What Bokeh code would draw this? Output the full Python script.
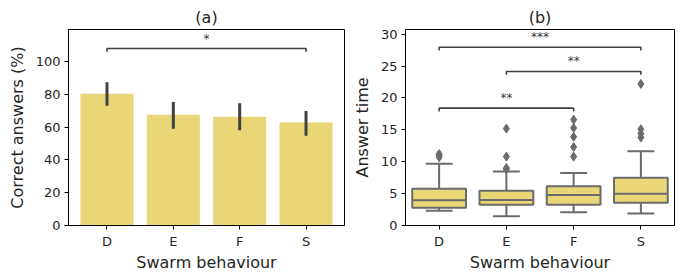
from bokeh.plotting import figure
from bokeh.layouts import row
from bokeh.models import FixedTicker, Range1d
from bokeh.core.properties import value
from bokeh.embed import file_html
from bokeh.resources import INLINE

# ---------------- data ----------------
categories = ["D", "E", "F", "S"]

# (a) correct answers (%) : mean with CI
correct_mean = [80.3, 67.5, 66.2, 62.8]
correct_ci_low = [73.0, 59.0, 58.1, 54.7]
correct_ci_high = [87.3, 75.2, 74.4, 69.8]

# (b) answer time box plot statistics
time_whisker_low = [2.33, 1.45, 2.07, 1.87]
time_q1 = [2.80, 3.27, 3.27, 3.58]
time_median = [3.95, 4.00, 4.77, 4.97]
time_q3 = [5.75, 5.44, 6.17, 7.50]
time_whisker_high = [9.70, 8.45, 8.24, 11.66]
time_outliers = {
    "D": [10.7, 11.0, 11.2],
    "E": [8.8, 9.0, 10.8, 15.2],
    "F": [10.8, 12.3, 13.9, 15.3, 16.6],
    "S": [13.8, 14.4, 15.1, 22.2],
}

# significance annotations: (from, to, level, label)
sig_a = [("D", "S", 107.8, "*")]
sig_b = [("D", "F", 18.4, "**"), ("E", "S", 24.15, "**"), ("D", "S", 27.95, "***")]

yticks_a = [0, 20, 40, 60, 80, 100]
yticks_b = [0, 5, 10, 15, 20, 25, 30]

# ---------------- style ----------------
FONT = "DejaVu Sans"
BAR = "#e9d777"
EDGE = "#6b6b6b"
ERR = "#424242"
TXT = "#262626"

xpos = {c: i for i, c in enumerate(categories)}


def style(p, yticks, ylabel, xr):
    p.x_range = Range1d(*xr)
    p.xgrid.visible = False
    p.ygrid.visible = False
    p.outline_line_color = "black"
    p.outline_line_width = 1
    p.title.text_font = FONT
    p.title.text_font_size = "16px"
    p.title.text_font_style = "normal"
    p.title.align = "center"
    p.title.text_color = TXT
    p.title.standoff = 5
    for ax in (p.xaxis[0], p.yaxis[0]):
        ax.axis_line_color = "black"
        ax.major_tick_line_color = "black"
        ax.major_tick_in = 0
        ax.major_tick_out = 4
        ax.minor_tick_line_color = None
        ax.major_label_text_font = FONT
        ax.major_label_text_font_size = "13px"
        ax.major_label_text_color = TXT
        ax.axis_label_text_font = FONT
        ax.axis_label_text_font_size = "16px"
        ax.axis_label_text_font_style = "normal"
        ax.axis_label_text_color = TXT
    p.xaxis[0].ticker = FixedTicker(ticks=list(range(len(categories))))
    p.xaxis[0].major_label_overrides = {i: c for i, c in enumerate(categories)}
    p.xaxis[0].axis_label = "Swarm behaviour"
    p.xaxis[0].major_label_standoff = 4
    p.xaxis[0].axis_label_standoff = 1
    p.yaxis[0].ticker = FixedTicker(ticks=yticks)
    p.yaxis[0].axis_label = ylabel
    p.yaxis[0].major_label_standoff = 4
    p.yaxis[0].axis_label_standoff = 6


def brackets(p, sigs, ytop):
    drop = 0.017 * ytop
    xs, ys, tx, ty, tt = [], [], [], [], []
    for a, b, lvl, lab in sigs:
        x1, x2 = xpos[a], xpos[b]
        xs.append([x1, x1, x2, x2])
        ys.append([lvl - drop, lvl, lvl, lvl - drop])
        tx.append((x1 + x2) / 2)
        ty.append(lvl)
        tt.append(lab)
    p.multi_line(xs, ys, line_color=ERR, line_width=1.6)
    p.text(tx, ty, text=tt, text_font=value(FONT), text_font_size="12px",
           text_align="center", text_baseline="bottom", text_color="#3a3a3a",
           y_offset=-3)


H = 274

# ---------------- (a) ----------------
ytop_a = 119.4
p1 = figure(width=349, height=H, title="(a)", output_backend="svg",
            toolbar_location=None, y_range=Range1d(0, ytop_a),
            min_border_left=68, min_border_right=5, min_border_top=29,
            min_border_bottom=46)
style(p1, yticks_a, "Correct answers (%)", (-0.58, 3.58))
xs = list(range(len(categories)))
p1.vbar(x=xs, top=correct_mean, bottom=0, width=0.8, fill_color=BAR,
        line_color=None)
p1.segment(x0=xs, y0=correct_ci_low, x1=xs, y1=correct_ci_high,
           line_color=ERR, line_width=3)
brackets(p1, sig_a, ytop_a)

# ---------------- (b) ----------------
ytop_b = 30.73
p2 = figure(width=326, height=H, title="(b)", output_backend="svg",
            toolbar_location=None, y_range=Range1d(0, ytop_b),
            min_border_left=51, min_border_right=1, min_border_top=29,
            min_border_bottom=46)
style(p2, yticks_b, "Answer time", (-0.5, 3.5))
# whiskers
p2.segment(x0=xs, y0=time_whisker_low, x1=xs, y1=time_q1, line_color=EDGE,
           line_width=2)
p2.segment(x0=xs, y0=time_q3, x1=xs, y1=time_whisker_high, line_color=EDGE,
           line_width=2)
# caps
cap_l = [x - 0.2 for x in xs]
cap_r = [x + 0.2 for x in xs]
p2.segment(x0=cap_l, y0=time_whisker_low, x1=cap_r, y1=time_whisker_low,
           line_color=EDGE, line_width=2)
p2.segment(x0=cap_l, y0=time_whisker_high, x1=cap_r, y1=time_whisker_high,
           line_color=EDGE, line_width=2)
# boxes
p2.vbar(x=xs, bottom=time_q1, top=time_q3, width=0.8, fill_color=BAR,
        line_color=EDGE, line_width=2)
box_l = [x - 0.4 for x in xs]
box_r = [x + 0.4 for x in xs]
p2.segment(x0=box_l, y0=time_median, x1=box_r, y1=time_median,
           line_color=EDGE, line_width=2)
# outliers
ox, oy = [], []
for c in categories:
    for v in time_outliers[c]:
        ox.append(xpos[c])
        oy.append(v)
p2.scatter(ox, oy, marker="diamond", size=9, fill_color=EDGE,
           line_color=EDGE)
brackets(p2, sig_b, ytop_b)

layout = row(p1, p2)
open("out.html", "w").write(file_html(layout, INLINE))
